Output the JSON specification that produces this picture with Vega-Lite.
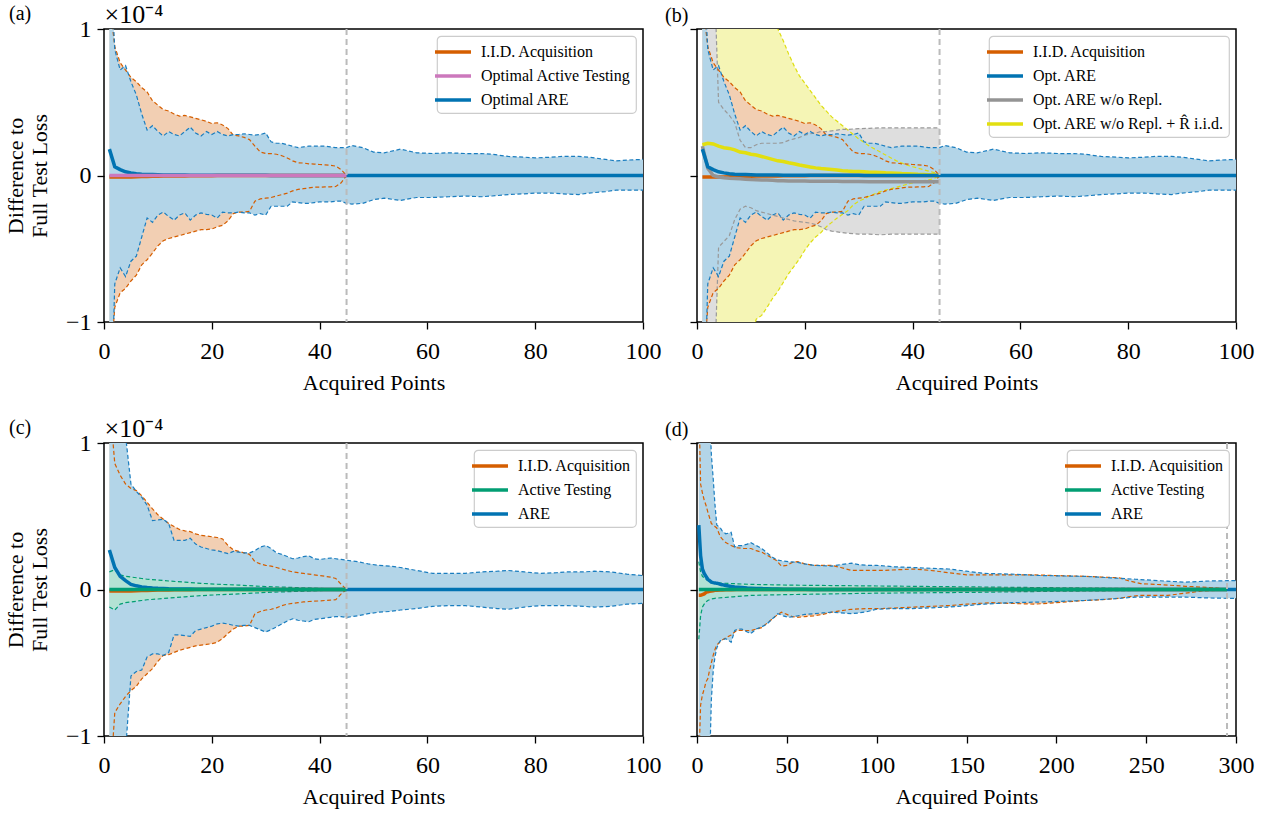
{
"$schema": "https://vega.github.io/schema/vega-lite/v6.json",
"background": "white",
"padding": {"left": 3, "top": 0, "right": 10, "bottom": 10},
"config": {
  "font": "Liberation Serif",
  "view": {"stroke": "black", "strokeWidth": 1.5},
  "axis": {"grid": false, "domain": false, "ticks": true, "tickColor": "black", "tickWidth": 1.3, "tickSize": 7, "labelFont": "Liberation Serif", "labelFontSize": 24, "labelColor": "black", "titleFont": "Liberation Serif", "titleFontSize": 22, "titleFontWeight": "normal", "titleColor": "black", "labelFlush": false, "labelOverlap": false},
  "axisX": {"titlePadding": 9, "labelPadding": 10},
  "axisY": {"titlePadding": 14, "labelPadding": 6},
  "legend": {"orient": "top-right", "offset": 7, "padding": 5, "strokeColor": "#CCCCCC", "strokeWidth": 1.2, "fillColor": "white", "cornerRadius": 4, "labelFont": "Liberation Serif", "labelFontSize": 16, "labelColor": "black", "symbolType": "M-2,0H2", "symbolStrokeWidth": 3.5, "symbolSize": 324, "labelOffset": 17, "rowPadding": 5, "labelLimit": 400},
  "title": {"font": "Liberation Serif", "fontSize": 20, "fontWeight": "normal", "color": "black", "anchor": "start", "frame": "group"}
},
"datasets": {
"a_are": [
{"x":1,"lo":-2.0,"hi":1.6,"m":0.18},{"x":2,"lo":-0.74,"hi":0.86,"m":0.06},{"x":3,"lo":-0.63,"hi":0.72,"m":0.04},{"x":4,"lo":-0.69,"hi":0.75,"m":0.025},{"x":5,"lo":-0.585,"hi":0.64,"m":0.018},{"x":6,"lo":-0.55,"hi":0.55,"m":0.012},{"x":7,"lo":-0.42,"hi":0.42,"m":0.009},{"x":8,"lo":-0.29,"hi":0.31,"m":0.007},{"x":9,"lo":-0.32,"hi":0.34,"m":0.006},{"x":10,"lo":-0.27,"hi":0.30,"m":0.005},
{"x":11,"lo":-0.25,"hi":0.27,"m":0.004},{"x":12,"lo":-0.28,"hi":0.30,"m":0.004},{"x":13,"lo":-0.305,"hi":0.28,"m":0.003},{"x":14,"lo":-0.27,"hi":0.27,"m":0.003},{"x":15,"lo":-0.255,"hi":0.30,"m":0.003},{"x":16,"lo":-0.305,"hi":0.33,"m":0.002},{"x":17,"lo":-0.27,"hi":0.29,"m":0.002},{"x":18,"lo":-0.255,"hi":0.27,"m":0.002},{"x":19,"lo":-0.265,"hi":0.30,"m":0.002},{"x":20,"lo":-0.27,"hi":0.28,"m":0.002},
{"x":21,"lo":-0.29,"hi":0.30,"m":0.001},{"x":22,"lo":-0.25,"hi":0.28,"m":0.001},{"x":23,"lo":-0.255,"hi":0.27,"m":0.001},{"x":24,"lo":-0.255,"hi":0.28,"m":0.001},{"x":25,"lo":-0.25,"hi":0.28,"m":0.001},{"x":26,"lo":-0.255,"hi":0.285,"m":0.001},{"x":27,"lo":-0.255,"hi":0.28,"m":0.001},{"x":28,"lo":-0.27,"hi":0.275,"m":0.001},{"x":29,"lo":-0.26,"hi":0.28,"m":0.001},{"x":30,"lo":-0.27,"hi":0.29,"m":0.001},
{"x":31,"lo":-0.21,"hi":0.23,"m":0},{"x":32,"lo":-0.21,"hi":0.22,"m":0},{"x":33,"lo":-0.21,"hi":0.22,"m":0},{"x":34,"lo":-0.21,"hi":0.21,"m":0},{"x":35,"lo":-0.18,"hi":0.20,"m":0},{"x":36,"lo":-0.185,"hi":0.19,"m":0},{"x":37,"lo":-0.19,"hi":0.195,"m":0},{"x":38,"lo":-0.19,"hi":0.20,"m":0},{"x":39,"lo":-0.185,"hi":0.20,"m":0},{"x":40,"lo":-0.18,"hi":0.20,"m":0},
{"x":41,"lo":-0.18,"hi":0.20,"m":0},{"x":42,"lo":-0.18,"hi":0.195,"m":0},{"x":43,"lo":-0.175,"hi":0.19,"m":0},{"x":44,"lo":-0.175,"hi":0.19,"m":0},{"x":45,"lo":-0.19,"hi":0.19,"m":0},{"x":46,"lo":-0.195,"hi":0.205,"m":0},{"x":48,"lo":-0.19,"hi":0.19,"m":0},{"x":50,"lo":-0.165,"hi":0.16,"m":0},{"x":52,"lo":-0.155,"hi":0.155,"m":0},{"x":55,"lo":-0.17,"hi":0.18,"m":0},
{"x":58,"lo":-0.15,"hi":0.155,"m":0},{"x":61,"lo":-0.15,"hi":0.15,"m":0},{"x":64,"lo":-0.145,"hi":0.155,"m":0},{"x":67,"lo":-0.14,"hi":0.15,"m":0},{"x":70,"lo":-0.145,"hi":0.15,"m":0},{"x":72,"lo":-0.14,"hi":0.145,"m":0},{"x":75,"lo":-0.13,"hi":0.13,"m":0},{"x":78,"lo":-0.125,"hi":0.125,"m":0},{"x":80,"lo":-0.12,"hi":0.12,"m":0},{"x":83,"lo":-0.12,"hi":0.125,"m":0},
{"x":85,"lo":-0.125,"hi":0.13,"m":0},{"x":88,"lo":-0.13,"hi":0.13,"m":0},{"x":90,"lo":-0.12,"hi":0.125,"m":0},{"x":93,"lo":-0.11,"hi":0.11,"m":0},{"x":95,"lo":-0.10,"hi":0.10,"m":0},{"x":97,"lo":-0.10,"hi":0.105,"m":0},{"x":100,"lo":-0.10,"hi":0.11,"m":0}
],
"a_iid": [
{"x":1,"lo":-1.4,"hi":1.2,"m":-0.01},{"x":2,"lo":-0.90,"hi":0.88,"m":-0.01},{"x":3,"lo":-0.80,"hi":0.77,"m":-0.01},{"x":4,"lo":-0.77,"hi":0.72,"m":-0.01},{"x":5,"lo":-0.72,"hi":0.67,"m":-0.01},{"x":6,"lo":-0.68,"hi":0.64,"m":-0.008},{"x":7,"lo":-0.61,"hi":0.60,"m":-0.007},{"x":8,"lo":-0.575,"hi":0.57,"m":-0.006},{"x":9,"lo":-0.53,"hi":0.51,"m":-0.005},{"x":10,"lo":-0.48,"hi":0.48,"m":-0.005},
{"x":11,"lo":-0.445,"hi":0.45,"m":-0.004},{"x":12,"lo":-0.43,"hi":0.44,"m":-0.004},{"x":13,"lo":-0.42,"hi":0.42,"m":-0.003},{"x":14,"lo":-0.41,"hi":0.405,"m":-0.003},{"x":15,"lo":-0.40,"hi":0.41,"m":-0.003},{"x":16,"lo":-0.39,"hi":0.40,"m":-0.002},{"x":17,"lo":-0.38,"hi":0.39,"m":-0.002},{"x":18,"lo":-0.37,"hi":0.38,"m":-0.002},{"x":19,"lo":-0.37,"hi":0.37,"m":-0.001},{"x":20,"lo":-0.365,"hi":0.355,"m":-0.001},
{"x":21,"lo":-0.35,"hi":0.36,"m":0},{"x":22,"lo":-0.34,"hi":0.345,"m":0},{"x":23,"lo":-0.31,"hi":0.32,"m":0},{"x":24,"lo":-0.26,"hi":0.275,"m":0},{"x":25,"lo":-0.25,"hi":0.27,"m":0},{"x":26,"lo":-0.25,"hi":0.26,"m":0},{"x":27,"lo":-0.245,"hi":0.245,"m":0},{"x":28,"lo":-0.175,"hi":0.20,"m":0},{"x":29,"lo":-0.16,"hi":0.16,"m":0},{"x":30,"lo":-0.155,"hi":0.15,"m":0},
{"x":31,"lo":-0.15,"hi":0.15,"m":0},{"x":32,"lo":-0.14,"hi":0.145,"m":0},{"x":33,"lo":-0.13,"hi":0.135,"m":0},{"x":34,"lo":-0.12,"hi":0.12,"m":0},{"x":35,"lo":-0.105,"hi":0.10,"m":0},{"x":36,"lo":-0.095,"hi":0.087,"m":0},{"x":37,"lo":-0.09,"hi":0.085,"m":0},{"x":38,"lo":-0.085,"hi":0.08,"m":0},{"x":39,"lo":-0.08,"hi":0.078,"m":0},{"x":40,"lo":-0.08,"hi":0.075,"m":0},
{"x":41,"lo":-0.078,"hi":0.073,"m":0},{"x":42,"lo":-0.077,"hi":0.07,"m":0},{"x":43,"lo":-0.075,"hi":0.064,"m":0},{"x":44,"lo":-0.05,"hi":0.04,"m":0},{"x":45,"lo":0,"hi":0,"m":0}
],
"a_oat": [
{"x":1,"m":0},{"x":5,"m":0},{"x":10,"m":0},{"x":15,"m":0},{"x":20,"m":0},{"x":25,"m":0},{"x":30,"m":0},{"x":35,"m":0},{"x":40,"m":0},{"x":45,"m":0}
],
"b_gray": [
{"x":1,"lo":-2.0,"hi":1.6,"m":0.2},{"x":2,"lo":-2.5,"hi":2.5,"m":0.05},{"x":3,"lo":-1.6,"hi":1.6,"m":0.0},{"x":4,"lo":-0.49,"hi":0.50,"m":-0.01},{"x":5,"lo":-0.45,"hi":0.45,"m":-0.015},{"x":6,"lo":-0.41,"hi":0.41,"m":-0.018},{"x":7,"lo":-0.30,"hi":0.36,"m":-0.02},{"x":8,"lo":-0.23,"hi":0.24,"m":-0.022},{"x":9,"lo":-0.21,"hi":0.19,"m":-0.025},{"x":10,"lo":-0.22,"hi":0.19,"m":-0.028},
{"x":11,"lo":-0.24,"hi":0.21,"m":-0.029},{"x":12,"lo":-0.25,"hi":0.22,"m":-0.03},{"x":13,"lo":-0.26,"hi":0.22,"m":-0.031},{"x":14,"lo":-0.27,"hi":0.22,"m":-0.033},{"x":15,"lo":-0.28,"hi":0.22,"m":-0.035},{"x":16,"lo":-0.29,"hi":0.225,"m":-0.036},{"x":17,"lo":-0.30,"hi":0.24,"m":-0.037},{"x":18,"lo":-0.31,"hi":0.25,"m":-0.037},{"x":19,"lo":-0.315,"hi":0.26,"m":-0.038},{"x":20,"lo":-0.32,"hi":0.275,"m":-0.038},
{"x":21,"lo":-0.325,"hi":0.285,"m":-0.039},{"x":22,"lo":-0.335,"hi":0.29,"m":-0.039},{"x":23,"lo":-0.35,"hi":0.30,"m":-0.04},{"x":24,"lo":-0.37,"hi":0.30,"m":-0.04},{"x":25,"lo":-0.38,"hi":0.305,"m":-0.04},{"x":26,"lo":-0.385,"hi":0.31,"m":-0.04},{"x":27,"lo":-0.39,"hi":0.315,"m":-0.041},{"x":28,"lo":-0.395,"hi":0.315,"m":-0.041},{"x":30,"lo":-0.40,"hi":0.32,"m":-0.041},{"x":32,"lo":-0.40,"hi":0.322,"m":-0.042},
{"x":34,"lo":-0.405,"hi":0.325,"m":-0.042},{"x":36,"lo":-0.40,"hi":0.325,"m":-0.042},{"x":38,"lo":-0.40,"hi":0.325,"m":-0.042},{"x":40,"lo":-0.40,"hi":0.325,"m":-0.042},{"x":42,"lo":-0.40,"hi":0.325,"m":-0.042},{"x":45,"lo":-0.40,"hi":0.325,"m":-0.042}
],
"b_yel": [
{"x":1,"lo":null,"hi":null,"m":0.21},{"x":2,"lo":null,"hi":null,"m":0.22},{"x":3,"lo":-6,"hi":6,"m":0.215},{"x":4,"lo":-5,"hi":5,"m":0.20},{"x":5,"lo":-4,"hi":4,"m":0.19},{"x":6,"lo":-3.3,"hi":3.4,"m":0.185},{"x":7,"lo":-2.8,"hi":2.9,"m":0.175},{"x":8,"lo":-2.3,"hi":2.6,"m":0.16},{"x":9,"lo":-1.7,"hi":2.3,"m":0.155},{"x":10,"lo":-1.1,"hi":2.0,"m":0.145},
{"x":11,"lo":-0.98,"hi":1.75,"m":0.14},{"x":12,"lo":-0.955,"hi":1.5,"m":0.13},{"x":13,"lo":-0.90,"hi":1.3,"m":0.12},{"x":14,"lo":-0.84,"hi":1.15,"m":0.11},{"x":15,"lo":-0.79,"hi":1.0,"m":0.10},{"x":16,"lo":-0.73,"hi":0.92,"m":0.095},{"x":17,"lo":-0.67,"hi":0.83,"m":0.087},{"x":18,"lo":-0.62,"hi":0.75,"m":0.08},{"x":19,"lo":-0.57,"hi":0.68,"m":0.072},{"x":20,"lo":-0.51,"hi":0.63,"m":0.065},
{"x":21,"lo":-0.46,"hi":0.58,"m":0.058},{"x":22,"lo":-0.42,"hi":0.53,"m":0.052},{"x":23,"lo":-0.39,"hi":0.48,"m":0.048},{"x":24,"lo":-0.35,"hi":0.44,"m":0.045},{"x":25,"lo":-0.32,"hi":0.40,"m":0.041},{"x":26,"lo":-0.29,"hi":0.37,"m":0.037},{"x":27,"lo":-0.265,"hi":0.34,"m":0.033},{"x":28,"lo":-0.24,"hi":0.31,"m":0.03},{"x":29,"lo":-0.20,"hi":0.28,"m":0.028},{"x":30,"lo":-0.175,"hi":0.25,"m":0.027},
{"x":31,"lo":-0.16,"hi":0.225,"m":0.025},{"x":32,"lo":-0.14,"hi":0.20,"m":0.023},{"x":33,"lo":-0.125,"hi":0.18,"m":0.022},{"x":34,"lo":-0.11,"hi":0.16,"m":0.02},{"x":35,"lo":-0.10,"hi":0.14,"m":0.018},{"x":36,"lo":-0.09,"hi":0.12,"m":0.017},{"x":37,"lo":-0.08,"hi":0.10,"m":0.015},{"x":38,"lo":-0.07,"hi":0.085,"m":0.013},{"x":39,"lo":-0.06,"hi":0.07,"m":0.012},{"x":40,"lo":-0.05,"hi":0.06,"m":0.01},
{"x":41,"lo":-0.045,"hi":0.05,"m":0.008},{"x":42,"lo":-0.035,"hi":0.04,"m":0.007},{"x":43,"lo":-0.03,"hi":0.03,"m":0.005},{"x":44,"lo":-0.02,"hi":0.02,"m":0.003},{"x":45,"lo":0,"hi":0,"m":0}
],
"c_are": [
{"x":1,"lo":-3,"hi":3,"m":0.27},{"x":2,"lo":-2.5,"hi":2.5,"m":0.15},{"x":3,"lo":-1.6,"hi":1.6,"m":0.09},{"x":4,"lo":-1.1,"hi":1.05,"m":0.06},{"x":5,"lo":-0.59,"hi":0.72,"m":0.035},{"x":6,"lo":-0.56,"hi":0.67,"m":0.025},{"x":7,"lo":-0.55,"hi":0.63,"m":0.018},{"x":8,"lo":-0.46,"hi":0.575,"m":0.013},{"x":9,"lo":-0.44,"hi":0.47,"m":0.01},{"x":10,"lo":-0.44,"hi":0.475,"m":0.008},
{"x":11,"lo":-0.45,"hi":0.48,"m":0.007},{"x":12,"lo":-0.43,"hi":0.45,"m":0.005},{"x":13,"lo":-0.31,"hi":0.335,"m":0.004},{"x":14,"lo":-0.31,"hi":0.335,"m":0.004},{"x":15,"lo":-0.315,"hi":0.335,"m":0.003},{"x":16,"lo":-0.32,"hi":0.35,"m":0.003},{"x":17,"lo":-0.28,"hi":0.31,"m":0.002},{"x":18,"lo":-0.27,"hi":0.29,"m":0.002},{"x":19,"lo":-0.26,"hi":0.28,"m":0.002},{"x":20,"lo":-0.25,"hi":0.27,"m":0.002},
{"x":21,"lo":-0.235,"hi":0.265,"m":0.001},{"x":22,"lo":-0.23,"hi":0.255,"m":0.001},{"x":23,"lo":-0.235,"hi":0.245,"m":0.001},{"x":24,"lo":-0.245,"hi":0.26,"m":0.001},{"x":25,"lo":-0.25,"hi":0.255,"m":0.001},{"x":26,"lo":-0.245,"hi":0.25,"m":0.001},{"x":27,"lo":-0.245,"hi":0.25,"m":0.001},{"x":28,"lo":-0.26,"hi":0.265,"m":0.001},{"x":29,"lo":-0.275,"hi":0.29,"m":0.001},{"x":30,"lo":-0.29,"hi":0.30,"m":0.001},
{"x":31,"lo":-0.275,"hi":0.28,"m":0},{"x":32,"lo":-0.255,"hi":0.25,"m":0},{"x":33,"lo":-0.235,"hi":0.24,"m":0},{"x":34,"lo":-0.215,"hi":0.225,"m":0},{"x":35,"lo":-0.20,"hi":0.21,"m":0},{"x":36,"lo":-0.21,"hi":0.215,"m":0},{"x":37,"lo":-0.215,"hi":0.225,"m":0},{"x":38,"lo":-0.22,"hi":0.23,"m":0},{"x":39,"lo":-0.205,"hi":0.21,"m":0},{"x":40,"lo":-0.20,"hi":0.205,"m":0},
{"x":41,"lo":-0.195,"hi":0.21,"m":0},{"x":42,"lo":-0.19,"hi":0.215,"m":0},{"x":43,"lo":-0.185,"hi":0.21,"m":0},{"x":44,"lo":-0.185,"hi":0.205,"m":0},{"x":45,"lo":-0.19,"hi":0.20,"m":0},{"x":47,"lo":-0.18,"hi":0.19,"m":0},{"x":49,"lo":-0.165,"hi":0.175,"m":0},{"x":51,"lo":-0.155,"hi":0.165,"m":0},{"x":53,"lo":-0.15,"hi":0.16,"m":0},{"x":55,"lo":-0.14,"hi":0.15,"m":0},
{"x":58,"lo":-0.13,"hi":0.13,"m":0},{"x":61,"lo":-0.115,"hi":0.11,"m":0},{"x":64,"lo":-0.11,"hi":0.11,"m":0},{"x":67,"lo":-0.11,"hi":0.11,"m":0},{"x":70,"lo":-0.12,"hi":0.12,"m":0},{"x":73,"lo":-0.13,"hi":0.125,"m":0},{"x":75,"lo":-0.135,"hi":0.13,"m":0},{"x":78,"lo":-0.12,"hi":0.12,"m":0},{"x":81,"lo":-0.11,"hi":0.11,"m":0},{"x":84,"lo":-0.11,"hi":0.115,"m":0},
{"x":86,"lo":-0.11,"hi":0.12,"m":0},{"x":89,"lo":-0.115,"hi":0.12,"m":0},{"x":91,"lo":-0.12,"hi":0.125,"m":0},{"x":94,"lo":-0.115,"hi":0.12,"m":0},{"x":97,"lo":-0.10,"hi":0.105,"m":0},{"x":100,"lo":-0.095,"hi":0.095,"m":0}
],
"c_iid": [
{"x":1,"lo":-1.4,"hi":1.3,"m":-0.01},{"x":2,"lo":-0.84,"hi":0.86,"m":-0.01},{"x":3,"lo":-0.78,"hi":0.78,"m":-0.01},{"x":4,"lo":-0.73,"hi":0.72,"m":-0.01},{"x":5,"lo":-0.69,"hi":0.69,"m":-0.01},{"x":6,"lo":-0.66,"hi":0.675,"m":-0.008},{"x":7,"lo":-0.61,"hi":0.64,"m":-0.007},{"x":8,"lo":-0.575,"hi":0.595,"m":-0.006},{"x":9,"lo":-0.54,"hi":0.55,"m":-0.005},{"x":10,"lo":-0.49,"hi":0.51,"m":-0.004},
{"x":11,"lo":-0.45,"hi":0.48,"m":-0.004},{"x":12,"lo":-0.445,"hi":0.45,"m":-0.003},{"x":13,"lo":-0.43,"hi":0.43,"m":-0.002},{"x":14,"lo":-0.415,"hi":0.41,"m":-0.002},{"x":15,"lo":-0.405,"hi":0.40,"m":-0.001},{"x":16,"lo":-0.395,"hi":0.395,"m":-0.001},{"x":17,"lo":-0.385,"hi":0.38,"m":0},{"x":18,"lo":-0.38,"hi":0.37,"m":0},{"x":19,"lo":-0.375,"hi":0.365,"m":0},{"x":20,"lo":-0.37,"hi":0.36,"m":0},
{"x":21,"lo":-0.36,"hi":0.355,"m":0},{"x":22,"lo":-0.335,"hi":0.345,"m":0},{"x":23,"lo":-0.30,"hi":0.30,"m":0},{"x":24,"lo":-0.27,"hi":0.27,"m":0},{"x":25,"lo":-0.25,"hi":0.26,"m":0},{"x":26,"lo":-0.25,"hi":0.25,"m":0},{"x":27,"lo":-0.245,"hi":0.24,"m":0},{"x":28,"lo":-0.165,"hi":0.19,"m":0},{"x":29,"lo":-0.15,"hi":0.175,"m":0},{"x":30,"lo":-0.14,"hi":0.165,"m":0},
{"x":31,"lo":-0.135,"hi":0.16,"m":0},{"x":32,"lo":-0.125,"hi":0.15,"m":0},{"x":33,"lo":-0.11,"hi":0.14,"m":0},{"x":34,"lo":-0.10,"hi":0.13,"m":0},{"x":35,"lo":-0.095,"hi":0.12,"m":0},{"x":36,"lo":-0.09,"hi":0.115,"m":0},{"x":37,"lo":-0.085,"hi":0.11,"m":0},{"x":38,"lo":-0.082,"hi":0.105,"m":0},{"x":39,"lo":-0.08,"hi":0.10,"m":0},{"x":40,"lo":-0.078,"hi":0.095,"m":0},
{"x":41,"lo":-0.075,"hi":0.09,"m":0},{"x":42,"lo":-0.072,"hi":0.085,"m":0},{"x":43,"lo":-0.07,"hi":0.075,"m":0},{"x":44,"lo":-0.03,"hi":0.035,"m":0},{"x":45,"lo":0,"hi":0,"m":0}
],
"c_at": [
{"x":1,"lo":-0.12,"hi":0.12,"m":0},{"x":2,"lo":-0.14,"hi":0.135,"m":0},{"x":3,"lo":-0.10,"hi":0.10,"m":0},{"x":4,"lo":-0.09,"hi":0.09,"m":0},{"x":5,"lo":-0.085,"hi":0.085,"m":0},{"x":6,"lo":-0.08,"hi":0.08,"m":0},{"x":7,"lo":-0.075,"hi":0.075,"m":0},{"x":8,"lo":-0.07,"hi":0.07,"m":0},{"x":10,"lo":-0.065,"hi":0.065,"m":0},{"x":12,"lo":-0.058,"hi":0.058,"m":0},
{"x":15,"lo":-0.05,"hi":0.05,"m":0},{"x":18,"lo":-0.042,"hi":0.042,"m":0},{"x":21,"lo":-0.036,"hi":0.036,"m":0},{"x":25,"lo":-0.03,"hi":0.03,"m":0},{"x":30,"lo":-0.02,"hi":0.02,"m":0},{"x":35,"lo":-0.014,"hi":0.014,"m":0},{"x":40,"lo":-0.008,"hi":0.008,"m":0},{"x":45,"lo":0,"hi":0,"m":0}
],
"d_are": [
{"x":1,"lo":-4,"hi":4,"m":0.44},{"x":2,"lo":-3.5,"hi":3.5,"m":0.23},{"x":3,"lo":-3,"hi":3,"m":0.14},{"x":4,"lo":-2.5,"hi":2.5,"m":0.11},{"x":5,"lo":-2,"hi":2,"m":0.09},{"x":6,"lo":-1.6,"hi":1.6,"m":0.07},{"x":7,"lo":-1.2,"hi":1.2,"m":0.06},{"x":8,"lo":-0.75,"hi":0.92,"m":0.05},{"x":9,"lo":-0.56,"hi":0.76,"m":0.047},{"x":10,"lo":-0.46,"hi":0.58,"m":0.045},
{"x":11,"lo":-0.40,"hi":0.44,"m":0.042},{"x":12,"lo":-0.37,"hi":0.43,"m":0.04},{"x":13,"lo":-0.35,"hi":0.42,"m":0.035},{"x":14,"lo":-0.345,"hi":0.40,"m":0.033},{"x":16,"lo":-0.335,"hi":0.38,"m":0.027},{"x":19,"lo":-0.36,"hi":0.39,"m":0.02},{"x":21,"lo":-0.28,"hi":0.29,"m":0.017},{"x":23,"lo":-0.27,"hi":0.30,"m":0.015},{"x":25,"lo":-0.27,"hi":0.30,"m":0.013},{"x":28,"lo":-0.29,"hi":0.31,"m":0.01},
{"x":30,"lo":-0.30,"hi":0.32,"m":0.009},{"x":33,"lo":-0.27,"hi":0.30,"m":0.007},{"x":36,"lo":-0.255,"hi":0.28,"m":0.006},{"x":39,"lo":-0.235,"hi":0.25,"m":0.005},{"x":42,"lo":-0.20,"hi":0.22,"m":0.004},{"x":45,"lo":-0.165,"hi":0.20,"m":0.003},{"x":48,"lo":-0.18,"hi":0.195,"m":0.002},{"x":51,"lo":-0.19,"hi":0.19,"m":0.002},{"x":56,"lo":-0.18,"hi":0.185,"m":0.001},{"x":60,"lo":-0.17,"hi":0.175,"m":0.001},
{"x":65,"lo":-0.165,"hi":0.165,"m":0},{"x":70,"lo":-0.16,"hi":0.162,"m":0},{"x":75,"lo":-0.155,"hi":0.16,"m":0},{"x":80,"lo":-0.16,"hi":0.17,"m":0},{"x":86,"lo":-0.165,"hi":0.18,"m":0},{"x":90,"lo":-0.16,"hi":0.17,"m":0},{"x":95,"lo":-0.15,"hi":0.165,"m":0},{"x":100,"lo":-0.135,"hi":0.165,"m":0},{"x":110,"lo":-0.13,"hi":0.155,"m":0},{"x":120,"lo":-0.13,"hi":0.15,"m":0},
{"x":130,"lo":-0.125,"hi":0.145,"m":0},{"x":140,"lo":-0.12,"hi":0.14,"m":0},{"x":150,"lo":-0.11,"hi":0.125,"m":0},{"x":160,"lo":-0.10,"hi":0.11,"m":0},{"x":175,"lo":-0.09,"hi":0.105,"m":0},{"x":190,"lo":-0.086,"hi":0.096,"m":0},{"x":205,"lo":-0.08,"hi":0.092,"m":0},{"x":216,"lo":-0.075,"hi":0.09,"m":0},{"x":230,"lo":-0.065,"hi":0.08,"m":0},{"x":244,"lo":-0.052,"hi":0.07,"m":0},
{"x":260,"lo":-0.052,"hi":0.058,"m":0},{"x":272,"lo":-0.052,"hi":0.05,"m":0},{"x":285,"lo":-0.058,"hi":0.058,"m":0},{"x":295,"lo":-0.06,"hi":0.06,"m":0},{"x":300,"lo":-0.06,"hi":0.06,"m":0}
],
"d_iid": [
{"x":1,"lo":-1.2,"hi":1.3,"m":-0.04},{"x":2,"lo":-0.79,"hi":0.72,"m":-0.04},{"x":3,"lo":-0.72,"hi":0.66,"m":-0.035},{"x":4,"lo":-0.68,"hi":0.61,"m":-0.03},{"x":5,"lo":-0.63,"hi":0.575,"m":-0.02},{"x":6,"lo":-0.61,"hi":0.53,"m":-0.015},{"x":7,"lo":-0.55,"hi":0.49,"m":-0.012},{"x":8,"lo":-0.50,"hi":0.45,"m":-0.01},{"x":9,"lo":-0.45,"hi":0.44,"m":-0.008},{"x":10,"lo":-0.41,"hi":0.43,"m":-0.006},
{"x":11,"lo":-0.38,"hi":0.42,"m":-0.005},{"x":13,"lo":-0.355,"hi":0.36,"m":-0.004},{"x":14,"lo":-0.345,"hi":0.345,"m":-0.003},{"x":16,"lo":-0.33,"hi":0.32,"m":-0.002},{"x":19,"lo":-0.31,"hi":0.30,"m":-0.001},{"x":22,"lo":-0.28,"hi":0.285,"m":0},{"x":26,"lo":-0.28,"hi":0.28,"m":0},{"x":30,"lo":-0.28,"hi":0.28,"m":0},{"x":33,"lo":-0.27,"hi":0.265,"m":0},{"x":36,"lo":-0.26,"hi":0.255,"m":0},
{"x":39,"lo":-0.23,"hi":0.235,"m":0},{"x":41,"lo":-0.21,"hi":0.22,"m":0},{"x":44,"lo":-0.18,"hi":0.20,"m":0},{"x":47,"lo":-0.155,"hi":0.16,"m":0},{"x":50,"lo":-0.17,"hi":0.165,"m":0},{"x":53,"lo":-0.185,"hi":0.185,"m":0},{"x":56,"lo":-0.19,"hi":0.19,"m":0},{"x":60,"lo":-0.185,"hi":0.175,"m":0},{"x":65,"lo":-0.18,"hi":0.165,"m":0},{"x":70,"lo":-0.17,"hi":0.165,"m":0},
{"x":75,"lo":-0.155,"hi":0.165,"m":0},{"x":80,"lo":-0.145,"hi":0.15,"m":0},{"x":86,"lo":-0.135,"hi":0.13,"m":0},{"x":95,"lo":-0.13,"hi":0.13,"m":0},{"x":103,"lo":-0.13,"hi":0.13,"m":0},{"x":112,"lo":-0.125,"hi":0.135,"m":0},{"x":121,"lo":-0.12,"hi":0.14,"m":0},{"x":130,"lo":-0.115,"hi":0.13,"m":0},{"x":140,"lo":-0.11,"hi":0.115,"m":0},{"x":150,"lo":-0.10,"hi":0.10,"m":0},
{"x":164,"lo":-0.09,"hi":0.10,"m":0},{"x":175,"lo":-0.095,"hi":0.10,"m":0},{"x":188,"lo":-0.10,"hi":0.10,"m":0},{"x":200,"lo":-0.09,"hi":0.095,"m":0},{"x":216,"lo":-0.075,"hi":0.09,"m":0},{"x":225,"lo":-0.07,"hi":0.085,"m":0},{"x":235,"lo":-0.06,"hi":0.08,"m":0},{"x":240,"lo":-0.05,"hi":0.06,"m":0},{"x":247,"lo":-0.04,"hi":0.04,"m":0},{"x":255,"lo":-0.04,"hi":0.035,"m":0},
{"x":262,"lo":-0.04,"hi":0.03,"m":0},{"x":272,"lo":-0.025,"hi":0.022,"m":0},{"x":281,"lo":-0.01,"hi":0.016,"m":0},{"x":290,"lo":-0.005,"hi":0.01,"m":0},{"x":295,"lo":0,"hi":0,"m":0}
],
"d_at": [
{"x":1,"lo":-0.34,"hi":0.19,"m":0},{"x":2,"lo":-0.18,"hi":0.12,"m":0},{"x":3,"lo":-0.12,"hi":0.09,"m":0},{"x":4,"lo":-0.10,"hi":0.08,"m":0},{"x":5,"lo":-0.085,"hi":0.07,"m":0},{"x":6,"lo":-0.075,"hi":0.062,"m":0},{"x":8,"lo":-0.064,"hi":0.052,"m":0},{"x":10,"lo":-0.06,"hi":0.046,"m":0},{"x":15,"lo":-0.055,"hi":0.043,"m":0},{"x":20,"lo":-0.05,"hi":0.04,"m":0},
{"x":30,"lo":-0.04,"hi":0.035,"m":0},{"x":50,"lo":-0.035,"hi":0.03,"m":0},{"x":75,"lo":-0.03,"hi":0.027,"m":0},{"x":100,"lo":-0.025,"hi":0.024,"m":0},{"x":150,"lo":-0.02,"hi":0.018,"m":0},{"x":200,"lo":-0.012,"hi":0.012,"m":0},{"x":250,"lo":-0.006,"hi":0.006,"m":0},{"x":295,"lo":0,"hi":0,"m":0}
]
},
"columns": 2,
"spacing": {"row": 121, "column": 54},
"bounds": "flush",
"resolve": {"scale": {"x": "independent", "y": "independent", "color": "independent"}, "legend": {"color": "independent"}},
"concat": [
{
 "width": 539, "height": 293,
 "title": {"text": "(a)", "dx": -95, "offset": -23},
 "resolve": {"scale": {"x": "independent"}, "axis": {"x": "independent"}},
 "layer": [
  {
   "encoding": {"x": {"field": "x", "type": "quantitative", "scale": {"domain": [0, 100], "nice": false, "zero": false}, "axis": {"values": [0, 20, 40, 60, 80, 100], "format": ".0f", "title": "Acquired Points"}}},
   "layer": [
    {"data": {"name": "a_iid"}, "mark": {"type": "area", "color": "#F2CFB3", "clip": true}, "encoding": {"y": {"field": "lo", "type": "quantitative", "scale": {"domain": [-1, 1], "nice": false, "zero": false}, "axis": {"values": [-1, 0, 1], "format": ".0f", "title": ["Difference to", "Full Test Loss"]}}, "y2": {"field": "hi"}}},
    {"data": {"name": "a_are"}, "mark": {"type": "area", "color": "#B3D5E8", "clip": true}, "encoding": {"y": {"field": "lo", "type": "quantitative"}, "y2": {"field": "hi"}}},
    {"data": {"name": "a_iid"}, "mark": {"type": "line", "color": "#D55E00", "strokeWidth": 1.2, "strokeDash": [4, 2.5], "clip": true}, "encoding": {"y": {"field": "lo", "type": "quantitative"}}},
    {"data": {"name": "a_iid"}, "mark": {"type": "line", "color": "#D55E00", "strokeWidth": 1.2, "strokeDash": [4, 2.5], "clip": true}, "encoding": {"y": {"field": "hi", "type": "quantitative"}}},
    {"data": {"name": "a_are"}, "mark": {"type": "line", "color": "#1A7DBF", "strokeWidth": 1.2, "strokeDash": [4, 2.5], "clip": true}, "encoding": {"y": {"field": "lo", "type": "quantitative"}}},
    {"data": {"name": "a_are"}, "mark": {"type": "line", "color": "#1A7DBF", "strokeWidth": 1.2, "strokeDash": [4, 2.5], "clip": true}, "encoding": {"y": {"field": "hi", "type": "quantitative"}}},
    {"data": {"name": "a_iid"}, "mark": {"type": "line", "strokeWidth": 3.5, "clip": true}, "encoding": {"y": {"field": "m", "type": "quantitative"}, "color": {"datum": "I.I.D. Acquisition", "title": null, "scale": {"domain": ["I.I.D. Acquisition", "Optimal Active Testing", "Optimal ARE"], "range": ["#D55E00", "#CC78BC", "#0173B2"]}}}},
    {"data": {"name": "a_are"}, "mark": {"type": "line", "strokeWidth": 3.5, "clip": true}, "encoding": {"y": {"field": "m", "type": "quantitative"}, "color": {"datum": "Optimal ARE", "title": null}}},
    {"data": {"name": "a_oat"}, "mark": {"type": "line", "strokeWidth": 3.5, "clip": true}, "encoding": {"y": {"field": "m", "type": "quantitative"}, "color": {"datum": "Optimal Active Testing", "title": null}}}
   ]
  },
  {"data": {"values": [{}]}, "mark": {"type": "rule", "color": "#BBBBBB", "strokeWidth": 2, "strokeDash": [6, 4]}, "encoding": {"x": {"datum": 45, "type": "quantitative", "scale": {"domain": [0, 100], "nice": false, "zero": false}, "axis": {"orient": "top", "title": "×10⁻⁴", "labels": false, "ticks": false, "domain": false, "grid": false, "titleAnchor": "start", "titleAlign": "left", "titleBaseline": "alphabetic", "titlePadding": 7, "titleFontSize": 26}}}}
 ]
},
{
 "width": 539, "height": 293,
 "title": {"text": "(b)", "dx": -32, "offset": 2},
 "resolve": {"scale": {"x": "independent"}, "axis": {"x": "independent"}},
 "layer": [
  {
   "encoding": {"x": {"field": "x", "type": "quantitative", "scale": {"domain": [0, 100], "nice": false, "zero": false}, "axis": {"values": [0, 20, 40, 60, 80, 100], "format": ".0f", "title": "Acquired Points"}}},
   "layer": [
    {"data": {"name": "b_yel"}, "mark": {"type": "area", "color": "#F5F5B5", "clip": true}, "encoding": {"y": {"field": "lo", "type": "quantitative", "scale": {"domain": [-1, 1], "nice": false, "zero": false}, "axis": {"values": [-1, 0, 1], "labels": false, "title": null}}, "y2": {"field": "hi"}}},
    {"data": {"name": "b_gray"}, "mark": {"type": "area", "color": "#DEDEDE", "clip": true}, "encoding": {"y": {"field": "lo", "type": "quantitative"}, "y2": {"field": "hi"}}},
    {"data": {"name": "a_iid"}, "mark": {"type": "area", "color": "#F2CFB3", "clip": true}, "encoding": {"y": {"field": "lo", "type": "quantitative"}, "y2": {"field": "hi"}}},
    {"data": {"name": "a_are"}, "mark": {"type": "area", "color": "#B3D5E8", "clip": true}, "encoding": {"y": {"field": "lo", "type": "quantitative"}, "y2": {"field": "hi"}}},
    {"data": {"name": "b_yel"}, "mark": {"type": "line", "color": "#DEDE10", "strokeWidth": 1.2, "strokeDash": [4, 2.5], "clip": true}, "encoding": {"y": {"field": "lo", "type": "quantitative"}}},
    {"data": {"name": "b_yel"}, "mark": {"type": "line", "color": "#DEDE10", "strokeWidth": 1.2, "strokeDash": [4, 2.5], "clip": true}, "encoding": {"y": {"field": "hi", "type": "quantitative"}}},
    {"data": {"name": "b_gray"}, "mark": {"type": "line", "color": "#999999", "strokeWidth": 1.2, "strokeDash": [4, 2.5], "clip": true}, "encoding": {"y": {"field": "lo", "type": "quantitative"}}},
    {"data": {"name": "b_gray"}, "mark": {"type": "line", "color": "#999999", "strokeWidth": 1.2, "strokeDash": [4, 2.5], "clip": true}, "encoding": {"y": {"field": "hi", "type": "quantitative"}}},
    {"data": {"name": "a_iid"}, "mark": {"type": "line", "color": "#D55E00", "strokeWidth": 1.2, "strokeDash": [4, 2.5], "clip": true}, "encoding": {"y": {"field": "lo", "type": "quantitative"}}},
    {"data": {"name": "a_iid"}, "mark": {"type": "line", "color": "#D55E00", "strokeWidth": 1.2, "strokeDash": [4, 2.5], "clip": true}, "encoding": {"y": {"field": "hi", "type": "quantitative"}}},
    {"data": {"name": "a_are"}, "mark": {"type": "line", "color": "#1A7DBF", "strokeWidth": 1.2, "strokeDash": [4, 2.5], "clip": true}, "encoding": {"y": {"field": "lo", "type": "quantitative"}}},
    {"data": {"name": "a_are"}, "mark": {"type": "line", "color": "#1A7DBF", "strokeWidth": 1.2, "strokeDash": [4, 2.5], "clip": true}, "encoding": {"y": {"field": "hi", "type": "quantitative"}}},
    {"data": {"name": "a_iid"}, "mark": {"type": "line", "strokeWidth": 3.5, "clip": true}, "encoding": {"y": {"field": "m", "type": "quantitative"}, "color": {"datum": "I.I.D. Acquisition", "title": null, "scale": {"domain": ["I.I.D. Acquisition", "Opt. ARE", "Opt. ARE w/o Repl.", "Opt. ARE w/o Repl. + R̂ i.i.d."], "range": ["#D55E00", "#0173B2", "#949494", "#E2DF10"]}}}},
    {"data": {"name": "b_gray"}, "mark": {"type": "line", "strokeWidth": 3.5, "clip": true}, "encoding": {"y": {"field": "m", "type": "quantitative"}, "color": {"datum": "Opt. ARE w/o Repl.", "title": null}}},
    {"data": {"name": "b_yel"}, "mark": {"type": "line", "strokeWidth": 3.5, "clip": true}, "encoding": {"y": {"field": "m", "type": "quantitative"}, "color": {"datum": "Opt. ARE w/o Repl. + R̂ i.i.d.", "title": null}}},
    {"data": {"name": "a_are"}, "mark": {"type": "line", "strokeWidth": 3.5, "clip": true}, "encoding": {"y": {"field": "m", "type": "quantitative"}, "color": {"datum": "Opt. ARE", "title": null}}}
   ]
  },
  {"data": {"values": [{}]}, "mark": {"type": "rule", "color": "#BBBBBB", "strokeWidth": 2, "strokeDash": [6, 4]}, "encoding": {"x": {"datum": 45, "type": "quantitative", "scale": {"domain": [0, 100], "nice": false, "zero": false}, "axis": null}}}
 ]
},
{
 "width": 539, "height": 293,
 "title": {"text": "(c)", "dx": -95, "offset": -23},
 "resolve": {"scale": {"x": "independent"}, "axis": {"x": "independent"}},
 "layer": [
  {
   "encoding": {"x": {"field": "x", "type": "quantitative", "scale": {"domain": [0, 100], "nice": false, "zero": false}, "axis": {"values": [0, 20, 40, 60, 80, 100], "format": ".0f", "title": "Acquired Points"}}},
   "layer": [
    {"data": {"name": "c_iid"}, "mark": {"type": "area", "color": "#F2CFB3", "clip": true}, "encoding": {"y": {"field": "lo", "type": "quantitative", "scale": {"domain": [-1, 1], "nice": false, "zero": false}, "axis": {"values": [-1, 0, 1], "format": ".0f", "title": ["Difference to", "Full Test Loss"]}}, "y2": {"field": "hi"}}},
    {"data": {"name": "c_are"}, "mark": {"type": "area", "color": "#B3D5E8", "clip": true}, "encoding": {"y": {"field": "lo", "type": "quantitative"}, "y2": {"field": "hi"}}},
    {"data": {"name": "c_at"}, "mark": {"type": "area", "color": "#B3E2D4", "clip": true}, "encoding": {"y": {"field": "lo", "type": "quantitative"}, "y2": {"field": "hi"}}},
    {"data": {"name": "c_iid"}, "mark": {"type": "line", "color": "#D55E00", "strokeWidth": 1.2, "strokeDash": [4, 2.5], "clip": true}, "encoding": {"y": {"field": "lo", "type": "quantitative"}}},
    {"data": {"name": "c_iid"}, "mark": {"type": "line", "color": "#D55E00", "strokeWidth": 1.2, "strokeDash": [4, 2.5], "clip": true}, "encoding": {"y": {"field": "hi", "type": "quantitative"}}},
    {"data": {"name": "c_are"}, "mark": {"type": "line", "color": "#1A7DBF", "strokeWidth": 1.2, "strokeDash": [4, 2.5], "clip": true}, "encoding": {"y": {"field": "lo", "type": "quantitative"}}},
    {"data": {"name": "c_are"}, "mark": {"type": "line", "color": "#1A7DBF", "strokeWidth": 1.2, "strokeDash": [4, 2.5], "clip": true}, "encoding": {"y": {"field": "hi", "type": "quantitative"}}},
    {"data": {"name": "c_at"}, "mark": {"type": "line", "color": "#029E73", "strokeWidth": 1.2, "strokeDash": [4, 2.5], "clip": true}, "encoding": {"y": {"field": "lo", "type": "quantitative"}}},
    {"data": {"name": "c_at"}, "mark": {"type": "line", "color": "#029E73", "strokeWidth": 1.2, "strokeDash": [4, 2.5], "clip": true}, "encoding": {"y": {"field": "hi", "type": "quantitative"}}},
    {"data": {"name": "c_iid"}, "mark": {"type": "line", "strokeWidth": 3.5, "clip": true}, "encoding": {"y": {"field": "m", "type": "quantitative"}, "color": {"datum": "I.I.D. Acquisition", "title": null, "scale": {"domain": ["I.I.D. Acquisition", "Active Testing", "ARE"], "range": ["#D55E00", "#029E73", "#0173B2"]}}}},
    {"data": {"name": "c_are"}, "mark": {"type": "line", "strokeWidth": 3.5, "clip": true}, "encoding": {"y": {"field": "m", "type": "quantitative"}, "color": {"datum": "ARE", "title": null}}},
    {"data": {"name": "c_at"}, "mark": {"type": "line", "strokeWidth": 3.5, "clip": true}, "encoding": {"y": {"field": "m", "type": "quantitative"}, "color": {"datum": "Active Testing", "title": null}}}
   ]
  },
  {"data": {"values": [{}]}, "mark": {"type": "rule", "color": "#BBBBBB", "strokeWidth": 2, "strokeDash": [6, 4]}, "encoding": {"x": {"datum": 45, "type": "quantitative", "scale": {"domain": [0, 100], "nice": false, "zero": false}, "axis": {"orient": "top", "title": "×10⁻⁴", "labels": false, "ticks": false, "domain": false, "grid": false, "titleAnchor": "start", "titleAlign": "left", "titleBaseline": "alphabetic", "titlePadding": 7, "titleFontSize": 26}}}}
 ]
},
{
 "width": 539, "height": 293,
 "title": {"text": "(d)", "dx": -32, "offset": 2},
 "resolve": {"scale": {"x": "independent"}, "axis": {"x": "independent"}},
 "layer": [
  {
   "encoding": {"x": {"field": "x", "type": "quantitative", "scale": {"domain": [0, 300], "nice": false, "zero": false}, "axis": {"values": [0, 50, 100, 150, 200, 250, 300], "format": ".0f", "title": "Acquired Points"}}},
   "layer": [
    {"data": {"name": "d_iid"}, "mark": {"type": "area", "color": "#F2CFB3", "clip": true}, "encoding": {"y": {"field": "lo", "type": "quantitative", "scale": {"domain": [-1, 1], "nice": false, "zero": false}, "axis": {"values": [-1, 0, 1], "labels": false, "title": null}}, "y2": {"field": "hi"}}},
    {"data": {"name": "d_are"}, "mark": {"type": "area", "color": "#B3D5E8", "clip": true}, "encoding": {"y": {"field": "lo", "type": "quantitative"}, "y2": {"field": "hi"}}},
    {"data": {"name": "d_at"}, "mark": {"type": "area", "color": "#B3E2D4", "clip": true}, "encoding": {"y": {"field": "lo", "type": "quantitative"}, "y2": {"field": "hi"}}},
    {"data": {"name": "d_iid"}, "mark": {"type": "line", "color": "#D55E00", "strokeWidth": 1.2, "strokeDash": [4, 2.5], "clip": true}, "encoding": {"y": {"field": "lo", "type": "quantitative"}}},
    {"data": {"name": "d_iid"}, "mark": {"type": "line", "color": "#D55E00", "strokeWidth": 1.2, "strokeDash": [4, 2.5], "clip": true}, "encoding": {"y": {"field": "hi", "type": "quantitative"}}},
    {"data": {"name": "d_are"}, "mark": {"type": "line", "color": "#1A7DBF", "strokeWidth": 1.2, "strokeDash": [4, 2.5], "clip": true}, "encoding": {"y": {"field": "lo", "type": "quantitative"}}},
    {"data": {"name": "d_are"}, "mark": {"type": "line", "color": "#1A7DBF", "strokeWidth": 1.2, "strokeDash": [4, 2.5], "clip": true}, "encoding": {"y": {"field": "hi", "type": "quantitative"}}},
    {"data": {"name": "d_at"}, "mark": {"type": "line", "color": "#029E73", "strokeWidth": 1.2, "strokeDash": [4, 2.5], "clip": true}, "encoding": {"y": {"field": "lo", "type": "quantitative"}}},
    {"data": {"name": "d_at"}, "mark": {"type": "line", "color": "#029E73", "strokeWidth": 1.2, "strokeDash": [4, 2.5], "clip": true}, "encoding": {"y": {"field": "hi", "type": "quantitative"}}},
    {"data": {"name": "d_iid"}, "mark": {"type": "line", "strokeWidth": 3.5, "clip": true}, "encoding": {"y": {"field": "m", "type": "quantitative"}, "color": {"datum": "I.I.D. Acquisition", "title": null, "scale": {"domain": ["I.I.D. Acquisition", "Active Testing", "ARE"], "range": ["#D55E00", "#029E73", "#0173B2"]}}}},
    {"data": {"name": "d_are"}, "mark": {"type": "line", "strokeWidth": 3.5, "clip": true}, "encoding": {"y": {"field": "m", "type": "quantitative"}, "color": {"datum": "ARE", "title": null}}},
    {"data": {"name": "d_at"}, "mark": {"type": "line", "strokeWidth": 3.5, "clip": true}, "encoding": {"y": {"field": "m", "type": "quantitative"}, "color": {"datum": "Active Testing", "title": null}}}
   ]
  },
  {"data": {"values": [{}]}, "mark": {"type": "rule", "color": "#BBBBBB", "strokeWidth": 2, "strokeDash": [6, 4]}, "encoding": {"x": {"datum": 295, "type": "quantitative", "scale": {"domain": [0, 300], "nice": false, "zero": false}, "axis": null}}}
 ]
}
]
}
